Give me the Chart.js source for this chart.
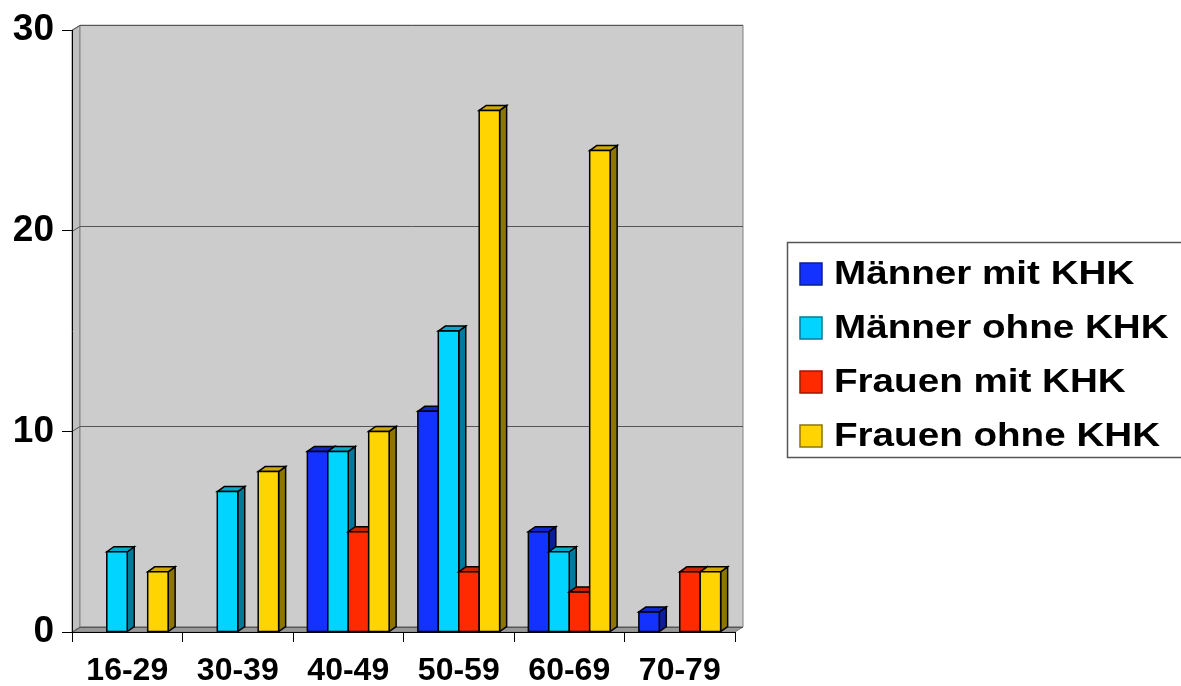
<!DOCTYPE html>
<html>
<head>
<meta charset="utf-8">
<script src="https://cdn.jsdelivr.net/npm/chart.js@4.4.0/dist/chart.umd.min.js"></script>
<style>
  body { margin: 0; background: #fff; }
  #wrap { width: 1181px; height: 686px; }
</style>
</head>
<body>
<div id="wrap"><canvas id="chart" width="1181" height="686"></canvas></div>
<script>
const ageGroups = ['16-29', '30-39', '40-49', '50-59', '60-69', '70-79'];
const maennerMit = [0, 0, 9, 11, 5, 1];
const maennerOhne = [4, 7, 9, 15, 4, 0];
const frauenMit = [0, 0, 5, 3, 2, 3];
const frauenOhne = [3, 8, 10, 26, 24, 3];
const seriesNames = ['Männer mit KHK', 'Männer ohne KHK', 'Frauen mit KHK', 'Frauen ohne KHK'];
const yTicks = [0, 10, 20, 30];

// front / top / side shade for every series
const shades = [
  { front: '#1432ff', top: '#0f28cc', side: '#0a1e96' },
  { front: '#00d4ff', top: '#00aacc', side: '#007a99' },
  { front: '#ff2a00', top: '#cc2200', side: '#991a00' },
  { front: '#ffd400', top: '#ccaa00', side: '#8c7600' }
];

const DX = 8, DY = -5;   // depth of the walls
const BX = 7, BY = -5;   // depth of the columns
const FONT = "'Liberation Sans', Arial, sans-serif";

function poly(ctx, pts, fill, stroke) {
  ctx.beginPath();
  ctx.moveTo(pts[0][0], pts[0][1]);
  for (let i = 1; i < pts.length; i++) ctx.lineTo(pts[i][0], pts[i][1]);
  ctx.closePath();
  if (fill) { ctx.fillStyle = fill; ctx.fill(); }
  if (stroke) { ctx.strokeStyle = stroke; ctx.stroke(); }
}

const box3d = {
  id: 'box3d',
  // walls and floor behind the columns
  beforeDraw(chart) {
    const { ctx, chartArea: a, scales: { y } } = chart;
    ctx.save();
    ctx.lineWidth = 1;
    poly(ctx, [[a.left, a.top], [a.left + DX, a.top + DY], [a.left + DX, a.bottom + DY], [a.left, a.bottom]], '#c0c0c0', '#808080');
    poly(ctx, [[a.left + DX, a.top + DY], [a.right + DX, a.top + DY], [a.right + DX, a.bottom + DY], [a.left + DX, a.bottom + DY]], '#cccccc', '#808080');
    poly(ctx, [[a.left, a.bottom], [a.left + DX, a.bottom + DY], [a.right + DX, a.bottom + DY], [a.right, a.bottom]], '#999999', '#808080');
    ctx.strokeStyle = '#555';
    yTicks.forEach(v => {
      const py = Math.round(y.getPixelForValue(v)) + 0.5;
      ctx.beginPath();
      ctx.moveTo(a.left, py);
      ctx.lineTo(a.left + DX, py + DY);
      ctx.lineTo(a.right + DX, py + DY);
      ctx.stroke();
    });
    ctx.restore();
  },
  // columns with top and side faces, painted left to right
  afterDatasetsDraw(chart) {
    const ctx = chart.ctx;
    ctx.save();
    ctx.lineWidth = 1.5;
    ctx.lineJoin = 'miter';
    const n = chart.data.labels.length;
    for (let j = 0; j < n; j++) {
      chart.data.datasets.forEach((ds, i) => {
        if (!ds.data[j]) return;
        const bar = chart.getDatasetMeta(i).data[j];
        const { x, y, base, width } = bar.getProps(['x', 'y', 'base', 'width'], true);
        const l = x - width / 2, r = x + width / 2;
        const c = shades[i];
        poly(ctx, [[r, y], [r + BX, y + BY], [r + BX, base + BY], [r, base]], c.side, '#000');
        poly(ctx, [[l, y], [l + BX, y + BY], [r + BX, y + BY], [r, y]], c.top, '#000');
        poly(ctx, [[l, y], [r, y], [r, base], [l, base]], c.front, '#000');
      });
    }
    ctx.restore();
  },
  // legend box on the right
  afterDraw(chart) {
    const ctx = chart.ctx;
    ctx.save();
    ctx.lineWidth = 1.5;
    ctx.strokeStyle = '#555';
    ctx.strokeRect(787.5, 242.5, 400, 215);
    seriesNames.forEach((name, i) => {
      const cy = 274 + i * 54;
      ctx.lineWidth = 1.5;
      ctx.fillStyle = shades[i].front;
      ctx.fillRect(800, cy - 11, 22, 22);
      ctx.strokeStyle = shades[i].side;
      ctx.strokeRect(800, cy - 11, 22, 22);
      ctx.save();
      ctx.translate(834, cy);
      ctx.scale(1.17, 1);
      ctx.fillStyle = '#000';
      ctx.font = 'bold 33px ' + FONT;
      ctx.textBaseline = 'middle';
      ctx.fillText(name, 0, 1);
      ctx.restore();
    });
    ctx.restore();
  }
};

new Chart(document.getElementById('chart'), {
  type: 'bar',
  data: {
    labels: ageGroups,
    datasets: [maennerMit, maennerOhne, frauenMit, frauenOhne].map((d, i) => ({
      label: seriesNames[i],
      data: d,
      backgroundColor: shades[i].front,
      borderWidth: 0,
      categoryPercentage: 0.74,
      barPercentage: 1
    }))
  },
  options: {
    responsive: false,
    animation: false,
    layout: { padding: { top: 29, right: 446, bottom: 0, left: 0 } },
    plugins: { legend: { display: false }, tooltip: { enabled: false } },
    scales: {
      x: {
        offset: true,
        grid: { offset: true, drawOnChartArea: false, tickLength: 10, color: '#000', lineWidth: 1 },
        border: { color: '#000', width: 1 },
        ticks: { color: '#000', font: { family: FONT, size: 32, weight: 'bold' }, padding: 10, maxRotation: 0 },
        afterFit(scale) { scale.height = 54; }
      },
      y: {
        min: 0,
        max: 30,
        grid: { drawOnChartArea: false, tickLength: 10, color: '#000', lineWidth: 1 },
        border: { color: '#000', width: 1 },
        ticks: { stepSize: 10, color: '#000', font: { family: FONT, size: 37, weight: 'bold' }, padding: 8 },
        afterFit(scale) { scale.width = 72; }
      }
    }
  },
  plugins: [box3d]
});
</script>
</body>
</html>
